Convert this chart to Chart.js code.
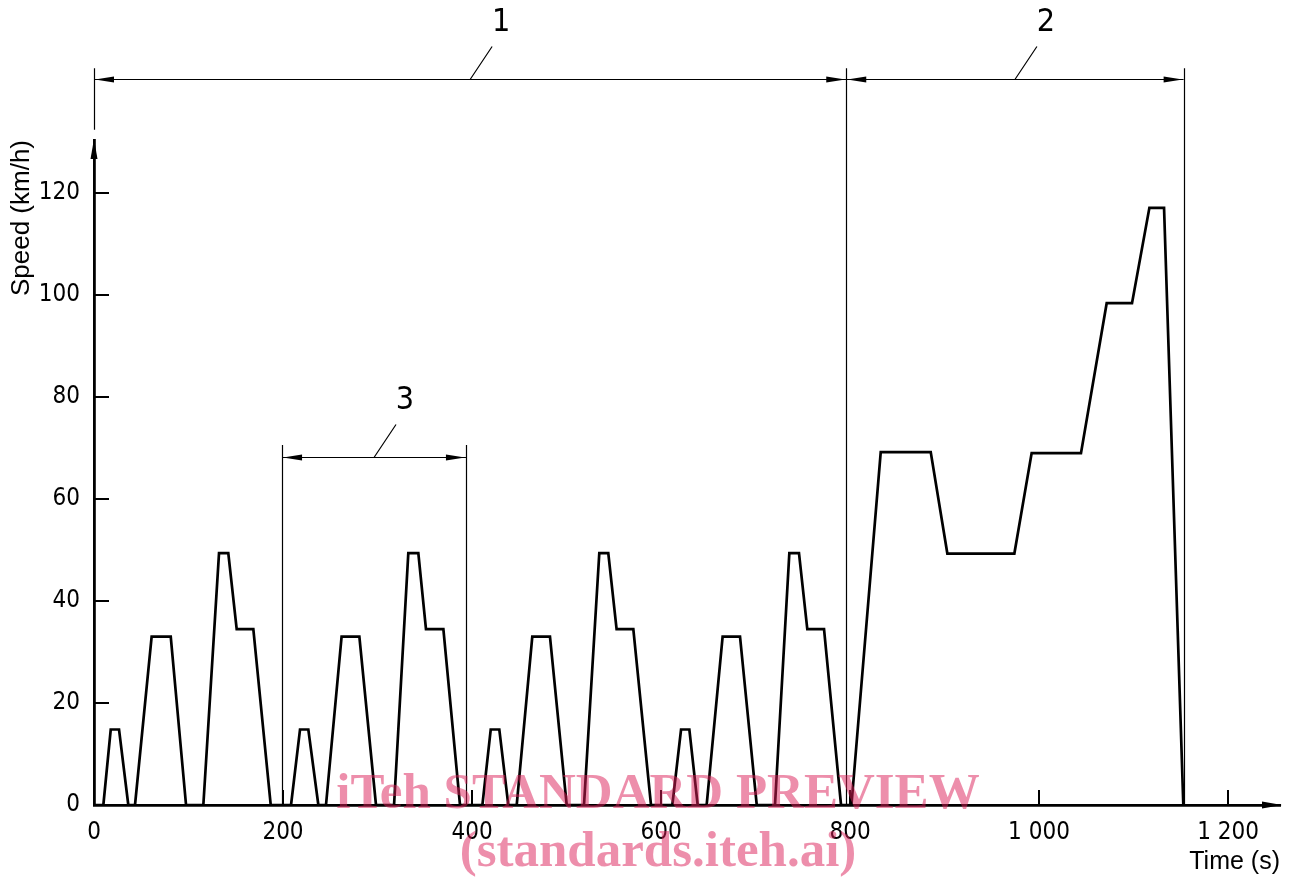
<!DOCTYPE html>
<html><head><meta charset="utf-8">
<script src="https://cdn.jsdelivr.net/npm/chart.js@4"></script>
<style>html,body{margin:0;padding:0;background:#fff}#wrap{width:1291px;height:881px}</style>
</head><body><div id="wrap"><canvas id="c" width="1291" height="881"></canvas></div>
<script>
// ---- data ----
const timeS = [
  0, 9.9, 17.7, 26.5, 36.3, 43.4, 61, 81.2, 97.4, 115.7, 132.3, 142.1, 151, 168.6, 187,
  208.5, 218, 226.8, 237.4, 245.5, 262, 280.8, 298.4, 317.5, 332.6, 343.2, 351.3, 369.7, 387.3,
  411, 419.8, 428.9, 438.4, 447.3, 463.8, 482.5, 500.2, 518.5, 534.7, 544.2, 553, 570.7, 589.4,
  612, 621.2, 630, 638.8, 648.3, 665.2, 683.6, 701.3, 720.6, 735.8, 746, 754.8, 772.5, 790.5,
  801.5, 832.5, 885.4, 903, 973.9, 992.2, 1044.4, 1071.6, 1098.4, 1116.8, 1132.3, 1152.7
];
const speedKmh = [
  0, 0, 14.8, 14.8, 0, 0, 33, 33, 0, 0, 49.4, 49.4, 34.5, 34.5, 0,
  0, 14.8, 14.8, 0, 0, 33, 33, 0, 0, 49.4, 49.4, 34.5, 34.5, 0,
  0, 14.8, 14.8, 0, 0, 33, 33, 0, 0, 49.4, 49.4, 34.5, 34.5, 0,
  0, 14.8, 14.8, 0, 0, 33, 33, 0, 0, 49.4, 49.4, 34.5, 34.5, 0,
  0, 69.2, 69.2, 49.3, 49.3, 69, 69, 98.4, 98.4, 117.1, 117.1, 0
];
const xTickValues = [0, 200, 400, 600, 800, 1000, 1200];
const xTickLabels = ['0', '200', '400', '600', '800', '1 000', '1 200'];
const yTickValues = [0, 20, 40, 60, 80, 100, 120];
const yTickLabels = ['0', '20', '40', '60', '80', '100', '120'];
const xMax = 1255;
const yMax = 130.4;

// dimension annotations (in data units: s, km/h)
const spanLabels = ['1', '2', '3'];
const spanStart = [0, 796, 199];
const spanEnd = [796, 1153, 393.6];
const spanLevel = [142.35, 142.35, 68.3];
const extX = [0, 796, 1153, 199, 393.6];
const extFrom = [144.45, 144.45, 144.45, 70.6, 70.6];
const extTo = [132.4, 0, 0, 0, 0];

const watermark = ['iTeh STANDARD PREVIEW', '(standards.iteh.ai)'];

const NARROW = "'Liberation Sans Narrow', 'DejaVu Sans Condensed', 'Roboto Condensed', sans-serif";
const SANS = "'Liberation Sans', Arial, sans-serif";

function arrowHead(ctx, tipX, tipY, dirX, dirY, len, half) {
  const bx = tipX - dirX * len, by = tipY - dirY * len;
  const px = -dirY, py = dirX;
  ctx.beginPath();
  ctx.moveTo(tipX, tipY);
  ctx.lineTo(bx + px * half, by + py * half);
  ctx.lineTo(bx - px * half, by - py * half);
  ctx.closePath();
  ctx.fill();
}

const decorPlugin = {
  id: 'decor',
  afterDraw(chart) {
    const ctx = chart.ctx;
    const xs = chart.scales.x, ys = chart.scales.y;
    const area = chart.chartArea;
    ctx.save();
    ctx.fillStyle = '#000';
    ctx.strokeStyle = '#000';
    // axis arrows
    arrowHead(ctx, area.left, area.top - 1, 0, -1, 20, 3.5);
    arrowHead(ctx, area.right + 2, area.bottom, 1, 0, 20, 3.5);
    // inward tick marks
    ctx.lineWidth = 2;
    ctx.beginPath();
    yTickValues.forEach(v => {
      if (v === 0) return;
      const py = Math.round(ys.getPixelForValue(v));
      ctx.moveTo(area.left, py); ctx.lineTo(area.left + 15, py);
    });
    xTickValues.forEach(v => {
      if (v === 0) return;
      const px = Math.round(xs.getPixelForValue(v));
      ctx.moveTo(px, area.bottom); ctx.lineTo(px, area.bottom - 15);
    });
    ctx.stroke();
    // extension lines
    ctx.lineWidth = 1.2;
    ctx.beginPath();
    extX.forEach((x, i) => {
      const px = Math.round(xs.getPixelForValue(x)) + 0.5;
      ctx.moveTo(px, ys.getPixelForValue(extFrom[i]));
      ctx.lineTo(px, ys.getPixelForValue(extTo[i]));
    });
    ctx.stroke();
    // dimension lines, leaders, labels
    spanLabels.forEach((lab, i) => {
      const x1 = xs.getPixelForValue(spanStart[i]);
      const x2 = xs.getPixelForValue(spanEnd[i]);
      const y = Math.round(ys.getPixelForValue(spanLevel[i])) + 0.5;
      ctx.lineWidth = 1.2;
      ctx.beginPath();
      ctx.moveTo(x1, y); ctx.lineTo(x2, y);
      const mx = (x1 + x2) / 2;
      ctx.moveTo(mx, y); ctx.lineTo(mx + 22, y - 33);
      ctx.stroke();
      arrowHead(ctx, x1 + 1, y, -1, 0, 19, 3);
      arrowHead(ctx, x2 - 1, y, 1, 0, 19, 3);
      ctx.font = '32px ' + NARROW;
      ctx.textAlign = 'center';
      ctx.textBaseline = 'middle';
      ctx.fillText(lab, mx + 31, y - 57);
    });
    // watermark
    ctx.fillStyle = 'rgba(220,30,88,0.5)';
    ctx.textAlign = 'center';
    ctx.textBaseline = 'alphabetic';
    ctx.font = "bold 51px 'Liberation Serif', 'Times New Roman', serif";
    ctx.fillText(watermark[0], 658, 808);
    ctx.fillText(watermark[1], 658, 866);
    ctx.restore();
  }
};

new Chart(document.getElementById('c'), {
  type: 'scatter',
  data: {
    datasets: [{
      data: timeS.map((t, i) => ({ x: t, y: speedKmh[i] })),
      showLine: true,
      borderColor: '#000',
      borderWidth: 2.7,
      borderJoinStyle: 'miter',
      pointRadius: 0,
      fill: false,
      tension: 0
    }]
  },
  options: {
    responsive: false,
    animation: false,
    devicePixelRatio: 1,
    layout: { padding: { top: 140, right: 11, left: 0, bottom: 0 } },
    plugins: { legend: { display: false }, tooltip: { enabled: false } },
    scales: {
      x: {
        type: 'linear', min: 0, max: xMax,
        afterBuildTicks: s => { s.ticks = xTickValues.map(v => ({ value: v })); },
        afterFit: s => { s.height = 76; },
        grid: { display: false, drawTicks: false },
        border: { display: true, color: '#000', width: 2.8 },
        ticks: {
          padding: 13, color: '#000', autoSkip: false, maxRotation: 0,
          font: { family: NARROW, size: 24 },
          callback: v => xTickLabels[xTickValues.indexOf(v)]
        },
        title: {
          display: true, text: 'Time (s)', align: 'end', color: '#000',
          font: { family: SANS, size: 25 }, padding: { top: 0, bottom: 4 }
        }
      },
      y: {
        type: 'linear', min: 0, max: yMax,
        afterBuildTicks: s => { s.ticks = yTickValues.map(v => ({ value: v })); },
        afterFit: s => { s.width = 94; },
        grid: { display: false, drawTicks: false },
        border: { display: true, color: '#000', width: 2.8 },
        ticks: {
          padding: 14, color: '#000', autoSkip: false,
          font: { family: NARROW, size: 24 },
          callback: v => yTickLabels[yTickValues.indexOf(v)]
        },
        title: {
          display: true, text: 'Speed (km/h)', align: 'end', color: '#000',
          font: { family: SANS, size: 26 }, padding: { top: 6, bottom: 0 }
        }
      }
    }
  },
  plugins: [decorPlugin]
});
</script>
</body></html>
